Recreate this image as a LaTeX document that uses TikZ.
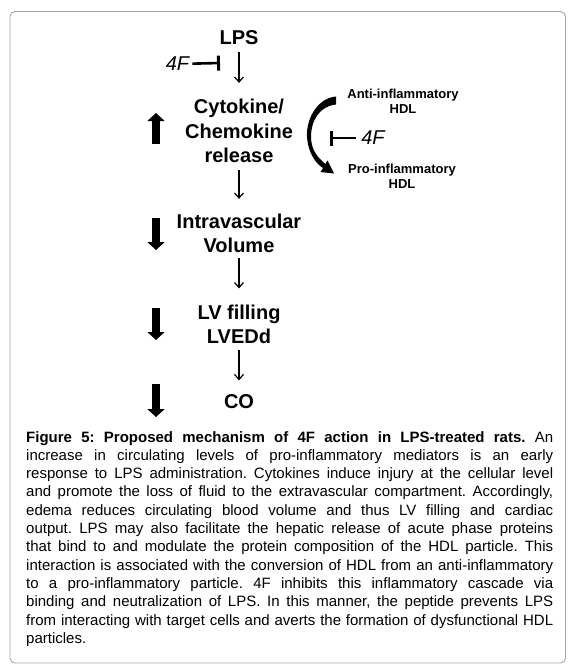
\documentclass[tikz,border=0pt]{standalone}
\usepackage{fontspec}
\setmainfont{Liberation Sans}
\usetikzlibrary{arrows.meta}
\newcommand\capline[1]{\hbox to 527pt{\frenchspacing\spaceskip=4.17pt plus 20pt minus 0.5pt\relax #1}}
\begin{document}
\begin{tikzpicture}[x=1pt,y=-1pt,
  lbl/.style={font=\fontsize{20}{24.5}\selectfont\bfseries, inner sep=0pt, align=center},
  hdl/.style={font=\fontsize{13}{15}\selectfont\bfseries, inner sep=0pt, align=center},
  ff/.style={font=\fontsize{20}{24}\selectfont\itshape, inner sep=0pt},
  thinarrow/.style={line width=1.2pt, -{Straight Barb[length=5pt,width=9pt]}},
  blockarrow/.style={line width=8pt, -{Triangle[length=8pt,width=17pt]}},
  inhib/.style={line width=2.6pt, -{Bar[width=15pt,line width=3pt]}},
]
\useasboundingbox (0,0) rectangle (572,669);
\draw[gray!70, line width=0.9pt, rounded corners=5pt] (10,11.5) rectangle (565.5,663);

% main chain
\node[lbl, anchor=base] (lps) at (239,45) {LPS};
\node[lbl, anchor=south] (cyto) at (239,163) {Cytokine/\\Chemokine\\release};
\node[lbl, anchor=south] (intra) at (239,253) {Intravascular\\Volume};
\node[lbl, anchor=south] (lv) at (239,344) {LV filling\\LVEDd};
\node[lbl, anchor=base] (co) at (239,408) {CO};

\draw[thinarrow, shorten <=7pt, shorten >=16pt] (lps) -- (cyto);
\draw[thinarrow, shorten <=7pt, shorten >=14.5pt] (cyto) -- (intra);
\draw[thinarrow, shorten <=5pt, shorten >=16pt] (intra) -- (lv);
\draw[thinarrow, shorten <=6pt, shorten >=13.5pt] (lv) -- (co);

% up/down indicators
\draw[blockarrow] (156,144) -- (156,113);
\draw[blockarrow] (156,218) -- (156,250);
\draw[blockarrow] (156,308) -- (156,340);
\draw[blockarrow] (156,384) -- (156,417);

% left inhibition
\node[ff] (f4a) at (177.5,64) {4F};
\coordinate (barA) at (220,63);
\draw[inhib, shorten <=3pt] (f4a) -- (barA);

% HDL conversion
\node[hdl, anchor=south] (anti) at (403,113.3) {Anti-inflammatory\\HDL};
\node[hdl, anchor=south] (pro) at (402,188.3) {Pro-inflammatory\\HDL};
\fill (336,96.5) .. controls (318,98) and (306,118) .. (307,137)
      .. controls (308,152) and (315,163) .. (323,168)
      -- (326,164.5) .. controls (318,158) and (311,150) .. (311,137)
      .. controls (311,120) and (320,106) .. (336,104.5) -- cycle;
\fill (334,173.5) -- (320.5,172) -- (324,166.5) -- (327.5,160.5) -- cycle;
\node[ff] (f4b) at (373,138) {4F};
\coordinate (barB) at (330,138);
\draw[inhib, shorten <=5pt] (f4b) -- (barB);

% caption
\node[inner sep=0pt, anchor=north west, text width=527pt,
      font=\fontsize{15}{18.3}\selectfont] (cap) at (26,431) {%
\capline{\textbf{Figure 5: Proposed mechanism of 4F action in LPS-treated rats.} An}
\capline{increase in circulating levels of pro-inflammatory mediators is an early}
\capline{response to LPS administration. Cytokines induce injury at the cellular level}
\capline{and promote the loss of fluid to the extravascular compartment. Accordingly,}
\capline{edema reduces circulating blood volume and thus LV filling and cardiac}
\capline{output. LPS may also facilitate the hepatic release of acute phase proteins}
\capline{that bind to and modulate the protein composition of the HDL particle. This}
\capline{interaction is associated with the conversion of HDL from an anti-inflammatory}
\capline{to a pro-inflammatory particle. 4F inhibits this inflammatory cascade via}
\capline{binding and neutralization of LPS. In this manner, the peptide prevents LPS}
\capline{from interacting with target cells and averts the formation of dysfunctional HDL}
\hbox{particles.}};
\end{tikzpicture}
\end{document}
